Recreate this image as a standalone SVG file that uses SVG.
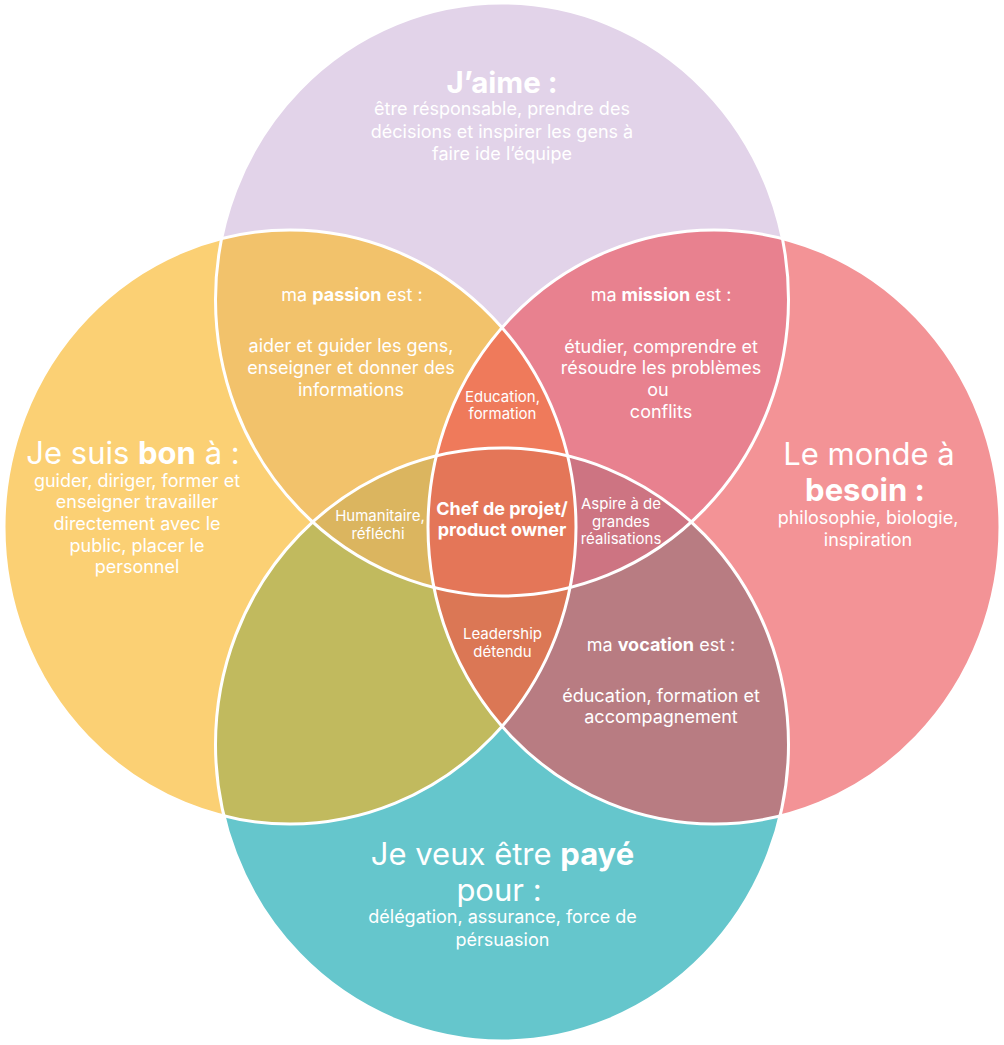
<svg xmlns="http://www.w3.org/2000/svg" xmlns:xlink="http://www.w3.org/1999/xlink" width="1004" height="1045" viewBox="0 0 1004 1045">
  <style>
    text { font-family: Inter, "Noto Sans", "Liberation Sans", sans-serif; fill: #ffffff; text-anchor: middle; }
    .title { font-size: 31px; font-weight: 400; }
    .body { font-size: 18px; font-weight: 400; }
    .small { font-size: 15px; font-weight: 400; }
    .core { font-size: 18px; font-weight: 700; }
    .b { font-weight: 700; }
    .outline { fill: none; stroke: #ffffff; stroke-width: 3; }
  </style>
  <defs>
    <!-- the four overlapping sets -->
    <ellipse id="eT" cx="502" cy="299.5" rx="286.5" ry="296.5"/>
    <ellipse id="eB" cx="502" cy="744.5" rx="286.5" ry="296.5"/>
    <ellipse id="eL" cx="290" cy="527" rx="286" ry="297"/>
    <ellipse id="eR" cx="714" cy="527" rx="286" ry="297"/>
    <clipPath id="cT"><use xlink:href="#eT"/></clipPath>
    <clipPath id="cB"><use xlink:href="#eB"/></clipPath>
    <clipPath id="cL"><use xlink:href="#eL"/></clipPath>
    <clipPath id="cR"><use xlink:href="#eR"/></clipPath>
  </defs>

  <rect width="1004" height="1045" fill="#ffffff"/>

  <!-- single sets -->
  <g id="aime">
    <use xlink:href="#eT" fill="#E2D3E9"/>
    <text class="title b" x="502" y="93" style="font-size:29.5px">J’aime :</text>
    <text class="body" x="502" y="115">être résponsable, prendre des</text>
    <text class="body" x="502" y="137.5">décisions et inspirer les gens à</text>
    <text class="body" x="502" y="159.5">faire ide l’équipe</text>
  </g>
  <g id="bon">
    <use xlink:href="#eL" fill="#FBD074"/>
    <text class="title" x="133" y="464">Je suis <tspan class="b">bon</tspan> à :</text>
    <text class="body" x="137" y="486.5">guider, diriger, former et</text>
    <text class="body" x="137" y="508">enseigner travailler</text>
    <text class="body" x="137" y="530">directement avec le</text>
    <text class="body" x="137" y="551.5">public, placer le</text>
    <text class="body" x="137" y="573">personnel</text>
  </g>
  <g id="besoin">
    <use xlink:href="#eR" fill="#F39396"/>
    <text class="title" x="869" y="465">Le monde à</text>
    <text class="title b" x="865" y="501">besoin :</text>
    <text class="body" x="868" y="524">philosophie, biologie,</text>
    <text class="body" x="868" y="546">inspiration</text>
  </g>
  <g id="paye">
    <use xlink:href="#eB" fill="#65C6CC"/>
    <text class="title" x="502.5" y="865">Je veux être <tspan class="b">payé</tspan></text>
    <text class="title" x="499" y="901">pour :</text>
    <text class="body" x="502.5" y="923">délégation, assurance, force de</text>
    <text class="body" x="502.5" y="946">pérsuasion</text>
  </g>

  <!-- pairwise overlaps -->
  <g id="passion">
    <g clip-path="url(#cT)"><use xlink:href="#eL" fill="#F2C26B"/></g>
    <text class="body" x="352" y="301">ma <tspan class="b">passion</tspan> est :</text>
    <text class="body" x="351" y="352">aider et guider les gens,</text>
    <text class="body" x="351" y="374">enseigner et donner des</text>
    <text class="body" x="351" y="396">informations</text>
  </g>
  <g id="mission">
    <g clip-path="url(#cT)"><use xlink:href="#eR" fill="#E8818F"/></g>
    <text class="body" x="661" y="301">ma <tspan class="b">mission</tspan> est :</text>
    <text class="body" x="661" y="352.5">étudier, comprendre et</text>
    <text class="body" x="661" y="374">résoudre les problèmes</text>
    <text class="body" x="658" y="396">ou</text>
    <text class="body" x="661" y="418">conflits</text>
  </g>
  <g id="talent">
    <g clip-path="url(#cL)"><use xlink:href="#eB" fill="#C1BA5E"/></g>
  </g>
  <g id="vocation">
    <g clip-path="url(#cR)"><use xlink:href="#eB" fill="#B87C82"/></g>
    <text class="body" x="661" y="650.5">ma <tspan class="b">vocation</tspan> est :</text>
    <text class="body" x="661" y="701.5">éducation, formation et</text>
    <text class="body" x="661" y="723">accompagnement</text>
  </g>

  <!-- triple overlaps -->
  <g id="education">
    <g clip-path="url(#cT)"><g clip-path="url(#cL)"><use xlink:href="#eR" fill="#EF7A5B"/></g></g>
    <text class="small" x="502.5" y="401.5">Education,</text>
    <text class="small" x="502.5" y="419">formation</text>
  </g>
  <g id="humanitaire">
    <g clip-path="url(#cT)"><g clip-path="url(#cL)"><use xlink:href="#eB" fill="#DBB55F"/></g></g>
    <text class="small" x="380" y="521">Humanitaire,</text>
    <text class="small" x="378" y="538.5">réfléchi</text>
  </g>
  <g id="aspire">
    <g clip-path="url(#cT)"><g clip-path="url(#cR)"><use xlink:href="#eB" fill="#CD7482"/></g></g>
    <text class="small" x="621" y="509">Aspire à de</text>
    <text class="small" x="621" y="526.5">grandes</text>
    <text class="small" x="621" y="544">réalisations</text>
  </g>
  <g id="leadership">
    <g clip-path="url(#cB)"><g clip-path="url(#cL)"><use xlink:href="#eR" fill="#DB7755"/></g></g>
    <text class="small" x="502.5" y="639">Leadership</text>
    <text class="small" x="502.5" y="656.5">détendu</text>
  </g>

  <!-- centre: all four sets -->
  <g id="chef">
    <g clip-path="url(#cT)"><g clip-path="url(#cB)"><g clip-path="url(#cL)"><use xlink:href="#eR" fill="#E47658"/></g></g></g>
    <text class="core" x="502" y="515">Chef de projet/</text>
    <text class="core" x="502" y="536">product owner</text>
  </g>

  <!-- white boundaries between the sets -->
  <g id="outlines">
    <use xlink:href="#eT" class="outline"/>
    <use xlink:href="#eB" class="outline"/>
    <use xlink:href="#eL" class="outline"/>
    <use xlink:href="#eR" class="outline"/>
  </g>
</svg>
